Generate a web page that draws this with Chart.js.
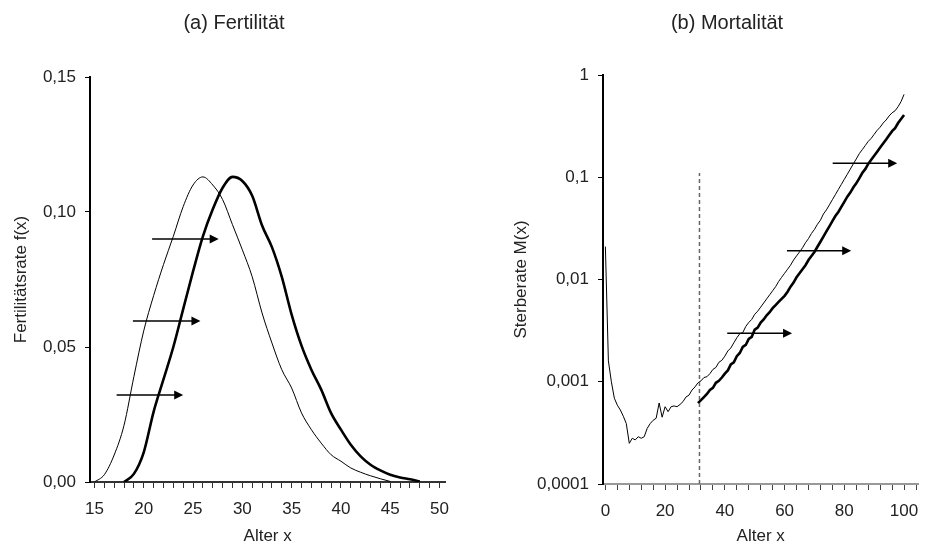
<!doctype html>
<html>
<head>
<meta charset="utf-8">
<title>Fertilität und Mortalität</title>
<style>
body { margin: 0; background: #fff; }
.wrap { position: relative; width: 927px; height: 547px; }
#fert { position: absolute; left: 0; top: 0; }
#mort { position: absolute; left: 468px; top: 0; }
.head { position: absolute; top: 10px; width: 240px; text-align: center;
  font: 20px 'Liberation Sans', Arial, sans-serif; color: #222; line-height: 24px; }
</style>
</head>
<body>
<div class="wrap">
<canvas id="fert" width="460" height="547"></canvas>
<canvas id="mort" width="459" height="547"></canvas>
<div class="head" style="left:114px">(a) Fertilität</div>
<div class="head" style="left:607px">(b) Mortalität</div>
</div>

<script src="https://cdn.jsdelivr.net/npm/chart.js@4.4.0/dist/chart.umd.min.js"></script>
<script>

// (a) fertility, thin = earlier curve, thick = shifted curve
var fertAgesA = [15,16,17,18,19,20,21,22,23,24,25,26,27,28,29,30,31,32,33,34,35,36,37,38,39,40,41,42,43,44,45];
var fertRateA = [0,0.0027,0.010,0.021,0.039,0.056,0.069,0.0805,0.091,0.102,0.110,0.113,0.110,0.1046,0.0953,0.086,0.076,0.0626,0.0515,0.0416,0.0348,0.0256,0.0194,0.0144,0.0101,0.0077,0.0052,0.0036,0.0023,0.0012,0.0002];
var fertAgesB = [18,19,20,21,22,23,24,25,26,27,28,29,30,31,32,33,34,35,36,37,38,39,40,41,42,43,44,45,46,47,48];
var fertRateB = [0,0.003,0.011,0.026,0.038,0.050,0.064,0.078,0.091,0.101,0.109,0.113,0.1115,0.106,0.095,0.087,0.076,0.062,0.0505,0.0416,0.0342,0.0255,0.0194,0.0138,0.0095,0.0064,0.0043,0.0027,0.0017,0.001,0.0002];
var fertXTicks = [15,16,17,18,19,20,21,22,23,24,25,26,27,28,29,30,31,32,33,34,35,36,37,38,39,40,41,42,43,44,45,46,47,48,49,50];
var fertYTicks = [0, 0.05, 0.10, 0.15];
var fertYLabels = ['0,00', '0,05', '0,10', '0,15'];
var fertArrowFrom = [17.25, 18.9, 20.85];
var fertArrowTo = [24.0, 25.75, 27.6];
var fertArrowLevel = [0.0322, 0.0596, 0.090];

// (b) mortality, log scale
var mortAgesA = [0,1,2,3,4,5,6,7,8,9,10,11,12,13,14,15,16,17,18,19,20,21,22,23,24,25,26,27,28,29,30,
  31,32,33,34,35,36,37,38,39,40,41,42,43,44,45,46,47,48,49,50,51,52,53,54,55,56,57,58,59,60,
  61,62,63,64,65,66,67,68,69,70,71,72,73,74,75,76,77,78,79,80,81,82,83,84,85,86,87,88,89,90,
  91,92,93,94,95,96,97,98,99,100];
var mortRateA = [0.021,0.0016,0.0010,0.00069,0.00059,0.00053,0.00046,0.00039,0.00025,0.00028,0.00027,0.00029,0.00028,0.00029,0.00035,0.00039,0.00042,0.00044,0.00062,0.00045,0.00057,0.00051,0.00057,0.00058,0.00057,0.00060,0.00064,0.00071,0.00074,0.00083,0.00089,
  0.000977,0.00102,0.00110,0.00112,0.00120,0.00132,0.00138,0.00155,0.00162,0.00178,0.00200,0.00214,0.00240,0.00269,0.00295,0.00302,0.00347,0.00380,0.00407,0.00457,
  0.00490,0.00537,0.00589,0.00646,0.00708,0.00776,0.00851,0.00955,0.0105,0.0115,
  0.0126,0.0138,0.0155,0.0170,0.0186,0.0204,0.0229,0.0251,0.0282,0.0309,
  0.0347,0.0380,0.0437,0.0479,0.0537,0.0603,0.0676,0.0759,0.0851,0.0955,
  0.107,0.120,0.135,0.151,0.170,0.186,0.204,0.224,0.240,0.263,
  0.288,0.309,0.339,0.363,0.398,0.427,0.447,0.490,0.550,0.646];
var mortAgesB = [31,32,33,34,35,36,37,38,39,40,41,42,43,44,45,46,47,48,49,50,51,52,53,54,55,56,57,58,59,60,
  61,62,63,64,65,66,67,68,69,70,71,72,73,74,75,76,77,78,79,80,81,82,83,84,85,86,87,88,89,90,
  91,92,93,94,95,96,97,98,99,100];
var mortRateB = [0.000617,0.000661,0.000708,0.000759,0.000832,0.000871,0.000977,0.00102,0.00110,0.00120,
  0.00129,0.00148,0.00155,0.00178,0.00191,0.00219,0.00229,0.00263,0.00275,0.00324,
  0.00339,0.00380,0.00407,0.00447,0.00479,0.00525,0.00562,0.00603,0.00646,0.00692,
  0.00759,0.00851,0.00933,0.0105,0.0115,0.0126,0.0138,0.0155,0.0170,0.0186,
  0.0209,0.0234,0.0263,0.0295,0.0331,0.0372,0.0417,0.0457,0.0513,0.0575,
  0.0646,0.0708,0.0794,0.0871,0.0977,0.110,0.120,0.135,0.148,0.162,
  0.178,0.195,0.214,0.234,0.257,0.282,0.302,0.339,0.372,0.407];
var mortDashAge = 31.5;
var mortDashTop = 0.11;
var mortXTicks = [0,4,8,12,16,20,24,28,32,36,40,44,48,52,56,60,64,68,72,76,80,84,88,92,96,100,104];
var mortYTicks = [0.0001, 0.001, 0.01, 0.1, 1];
var mortYLabels = ['0,0001', '0,001', '0,01', '0,1', '1'];
var mortArrowFrom = [40.8, 60.8, 76.1];
var mortArrowTo = [62.5, 82.3, 97.7];
var mortArrowLevel = [0.00298, 0.0191, 0.137];

Chart.defaults.font.family = "'Liberation Sans', Arial, sans-serif";
Chart.defaults.font.size = 17;
Chart.defaults.color = '#222';

function points(xs, ys) {
  return xs.map(function(x, i) { return { x: x, y: ys[i] }; });
}

// horizontal arrows, positioned through the chart's scales
var arrowPlugin = {
  id: 'arrows',
  afterDatasetsDraw: function(chart, args, opts) {
    var xs = chart.scales.x, ys = chart.scales.y, ctx = chart.ctx;
    ctx.save();
    ctx.strokeStyle = '#000';
    ctx.fillStyle = '#000';
    ctx.lineWidth = 1.5;
    for (var i = 0; i < opts.from.length; i++) {
      var x0 = xs.getPixelForValue(opts.from[i]);
      var x1 = xs.getPixelForValue(opts.to[i]);
      var y = ys.getPixelForValue(opts.level[i]);
      ctx.beginPath();
      ctx.moveTo(x0, y);
      ctx.lineTo(x1 - 7, y);
      ctx.stroke();
      ctx.beginPath();
      ctx.moveTo(x1, y);
      ctx.lineTo(x1 - 9, y - 4.5);
      ctx.lineTo(x1 - 9, y + 4.5);
      ctx.closePath();
      ctx.fill();
    }
    ctx.restore();
  }
};

new Chart(document.getElementById('fert'), {
  type: 'line',
  data: {
    datasets: [
      { data: points(fertAgesA, fertRateA), borderColor: '#000', borderWidth: 1, pointRadius: 0, cubicInterpolationMode: 'monotone' },
      { data: points(fertAgesB, fertRateB), borderColor: '#000', borderWidth: 2.6, pointRadius: 0, cubicInterpolationMode: 'monotone' }
    ]
  },
  options: {
    responsive: false,
    animation: false,
    layout: { padding: { top: 77 } },
    plugins: {
      legend: { display: false },
      tooltip: { enabled: false },
      arrows: { from: fertArrowFrom, to: fertArrowTo, level: fertArrowLevel }
    },
    scales: {
      x: {
        type: 'linear', min: 14.55, max: 50.58,
        afterBuildTicks: function(s) { s.ticks = fertXTicks.map(function(v) { return { value: v }; }); },
        afterFit: function(s) { s.height = 65; },
        ticks: { autoSkip: false, maxRotation: 0, padding: 11, callback: function(v) { return v % 5 === 0 ? String(v) : ''; } },
        grid: { drawOnChartArea: false, tickLength: 6, tickColor: '#333' },
        border: { color: '#333', width: 2 },
        title: { display: true, text: 'Alter x', padding: { top: 0, bottom: 0 } }
      },
      y: {
        min: 0, max: 0.15,
        afterBuildTicks: function(s) { s.ticks = fertYTicks.map(function(v) { return { value: v }; }); },
        afterFit: function(s) { s.width = 90; },
        ticks: { padding: 9, callback: function(v, i) { return fertYLabels[i]; } },
        grid: { drawOnChartArea: false, tickLength: 5, tickColor: '#000' },
        border: { color: '#000', width: 2 },
        title: { display: true, text: 'Fertilitätsrate f(x)', padding: { top: 11, bottom: 0 } }
      }
    }
  },
  plugins: [arrowPlugin]
});

new Chart(document.getElementById('mort'), {
  type: 'line',
  data: {
    datasets: [
      { data: points([mortDashAge, mortDashAge], [0.0001, mortDashTop]), borderColor: '#666', borderWidth: 1.5, borderDash: [4, 3], pointRadius: 0 },
      { data: points(mortAgesA, mortRateA), borderColor: '#000', borderWidth: 1, pointRadius: 0 },
      { data: points(mortAgesB, mortRateB), borderColor: '#000', borderWidth: 2.6, pointRadius: 0 }
    ]
  },
  options: {
    responsive: false,
    animation: false,
    layout: { padding: { top: 75 } },
    plugins: {
      legend: { display: false },
      tooltip: { enabled: false },
      arrows: { from: mortArrowFrom, to: mortArrowTo, level: mortArrowLevel }
    },
    scales: {
      x: {
        type: 'linear', min: -0.8, max: 104.8,
        afterBuildTicks: function(s) { s.ticks = mortXTicks.map(function(v) { return { value: v }; }); },
        afterFit: function(s) { s.height = 63; },
        ticks: { autoSkip: false, maxRotation: 0, padding: 11, callback: function(v) { return v % 20 === 0 && v <= 100 ? String(v) : ''; } },
        grid: { drawOnChartArea: false, tickLength: 6, tickColor: '#444' },
        border: { color: '#999', width: 2 },
        title: { display: true, text: 'Alter x', padding: { top: 0, bottom: 0 } }
      },
      y: {
        type: 'logarithmic', min: 0.0001, max: 1,
        afterBuildTicks: function(s) { s.ticks = mortYTicks.map(function(v) { return { value: v }; }); },
        afterFit: function(s) { s.width = 135; },
        ticks: { padding: 9, callback: function(v, i) { return mortYLabels[i]; } },
        grid: { drawOnChartArea: false, tickLength: 5, tickColor: '#000' },
        border: { color: '#000', width: 2 },
        title: { display: true, text: 'Sterberate M(x)', padding: { top: 43, bottom: 0 } }
      }
    }
  },
  plugins: [arrowPlugin]
});

</script>
</body>
</html>
